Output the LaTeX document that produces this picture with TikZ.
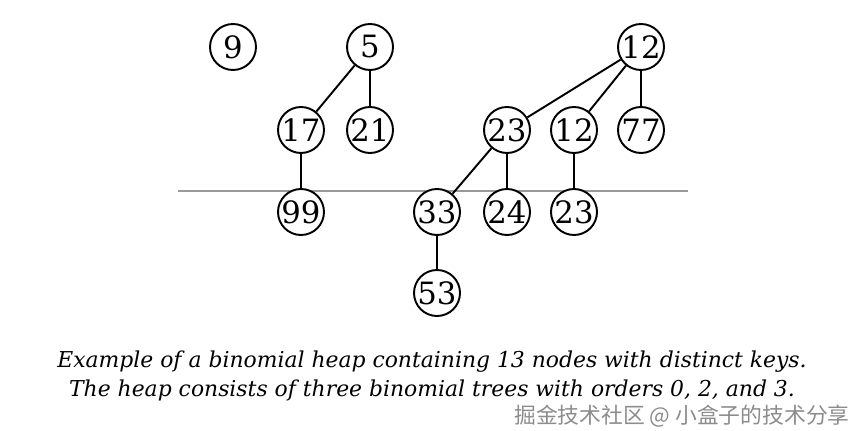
\documentclass[tikz,border=0pt]{standalone}
\usepackage{fontspec}
\setmainfont{DejaVu Serif}
\newfontfamily\cjkfont{Noto Sans CJK SC}
\pgfdeclarelayer{edgelayer}
\pgfdeclarelayer{nodelayer}
\pgfsetlayers{edgelayer,nodelayer,main}
\tikzstyle{edge}=[draw=black, line width=1.1pt]
\tikzstyle{vertex}=[circle, fill=white, draw=black, line width=1.1pt, minimum size=0.92cm, inner sep=0pt, font=\fontsize{17.5}{20}\selectfont]
\tikzstyle{caption}=[align=center, font=\itshape\fontsize{12.45}{17}\selectfont]

\begin{document}
\begin{tikzpicture}
				\useasboundingbox (0, 0) rectangle (17.32, 8.6);
				\begin{pgfonlayer}{nodelayer}
					\node [style=vertex] (0) at (4.66, 7.66) {9};
					\node [style=vertex] (1) at (7.40, 7.66) {5};
					\node [style=vertex] (2) at (6.02, 6.00) {17};
					\node [style=vertex] (3) at (7.40, 6.00) {21};
					\node [style=vertex] (4) at (6.02, 4.36) {99};
					\node [style=vertex] (5) at (12.82, 7.66) {12};
					\node [style=vertex] (6) at (10.14, 6.00) {23};
					\node [style=vertex] (7) at (11.48, 6.00) {12};
					\node [style=vertex] (8) at (12.82, 6.00) {77};
					\node [style=vertex] (9) at (8.74, 4.36) {33};
					\node [style=vertex] (10) at (10.14, 4.36) {24};
					\node [style=vertex] (11) at (11.48, 4.36) {23};
					\node [style=vertex] (12) at (8.74, 2.74) {53};
					\coordinate (13) at (3.56, 4.78);
					\coordinate (14) at (13.76, 4.78);
				\end{pgfonlayer}
				\begin{pgfonlayer}{edgelayer}
					\draw [draw=gray!80, line width=0.7pt] (13) to (14);
					\draw [style=edge] (1) to (2);
					\draw [style=edge] (1) to (3);
					\draw [style=edge] (2) to (4);
					\draw [style=edge] (5) to (6);
					\draw [style=edge] (5) to (7);
					\draw [style=edge] (5) to (8);
					\draw [style=edge] (6) to (9);
					\draw [style=edge] (6) to (10);
					\draw [style=edge] (7) to (11);
					\draw [style=edge] (9) to (12);
				\end{pgfonlayer}
				\node [style=caption] (15) at (8.64, 1.08) {Example of a binomial heap containing 13 nodes with distinct keys.\\The heap consists of three binomial trees with orders 0, 2, and 3.};
				\node [text=gray!90, inner sep=0pt, font=\cjkfont\fontsize{12.4}{14}\selectfont] (16) at (13.64, 0.27) {掘金技术社区 @ 小盒子的技术分享};
			\end{tikzpicture}
\end{document}
